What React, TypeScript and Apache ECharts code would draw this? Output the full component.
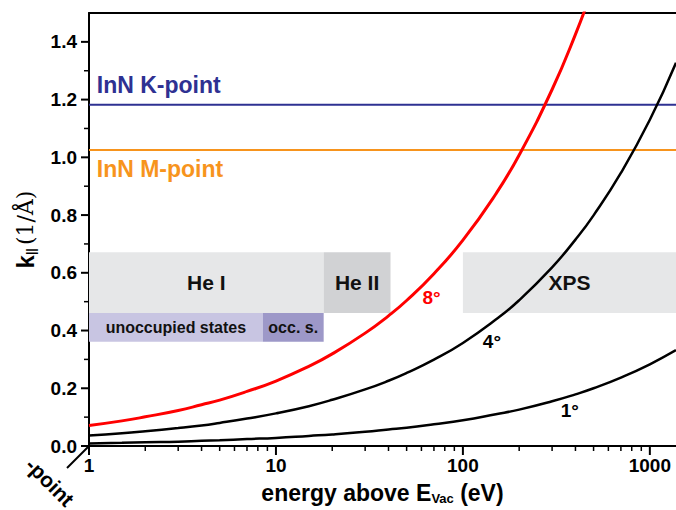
import React, { useEffect, useRef } from "react";
import * as echarts from "echarts";

// energies (eV) at which curves were read
const energies = [1, 1.5, 2, 3, 4, 5, 7, 10, 15, 20, 30, 40, 50, 70, 100, 150, 200, 300, 400, 500, 700, 1000, 1380];
const k8 = [0.071, 0.087, 0.101, 0.123, 0.143, 0.159, 0.189, 0.225, 0.276, 0.319, 0.391, 0.451, 0.504, 0.597, 0.713, 0.873, 1.008, 1.235, 1.426, 1.594];
const k4 = [0.036, 0.044, 0.051, 0.062, 0.071, 0.080, 0.095, 0.113, 0.138, 0.160, 0.196, 0.226, 0.253, 0.299, 0.357, 0.438, 0.505, 0.619, 0.715, 0.799, 0.946, 1.130, 1.328];
const k1 = [0.009, 0.011, 0.013, 0.015, 0.018, 0.020, 0.024, 0.028, 0.035, 0.040, 0.049, 0.057, 0.063, 0.075, 0.089, 0.110, 0.126, 0.155, 0.179, 0.200, 0.237, 0.283, 0.332];

const kPoint = 1.182;
const mPoint = 1.025;

const xMin = 1;
const xMax = 1380;
const xLabels = [1, 10, 100, 1000];
const yLabels = [0, 0.2, 0.4, 0.6, 0.8, 1.0, 1.2, 1.4];
const xMinor = [2, 3, 4, 5, 6, 7, 8, 9, 20, 30, 40, 50, 60, 70, 80, 90, 200, 300, 400, 500, 600, 700, 800, 900];
const yMinor = [0.1, 0.3, 0.5, 0.7, 0.9, 1.1, 1.3];

// regions: [label, x0, x1, y0, y1]
const regions: [string, number, number, number, number][] = [
  ["He I", 1, 18, 0.461, 0.671],
  ["He II", 18, 41, 0.461, 0.671],
  ["XPS", 100, 1380, 0.461, 0.671],
  ["unoccupied states", 1, 8.5, 0.361, 0.461],
  ["occ. s.", 8.5, 18, 0.361, 0.461],
];
const regionColors = ["#e6e7e8", "#d1d2d4", "#e6e7e8", "#c8c5e2", "#9d98c8"];
const regionFont = [21, 21, 21, 16, 16];

// annotations: [text, x, y]
const angleLabels: [string, number, number][] = [
  ["8°", 68, 0.513],
  ["4°", 143, 0.361],
  ["1°", 373, 0.124],
];
const pointLabels: [string, number, number][] = [
  ["InN K-point", 1.1, 1.252],
  ["InN M-point", 1.1, 0.96],
];

const FONT = '"Liberation Sans", Arial, sans-serif';

export default function App() {
  const ref = useRef<HTMLDivElement>(null);
  useEffect(() => {
    document.body.style.margin = "0";
    const chart = echarts.init(ref.current!, null, { renderer: "svg" });
    const pair = (ys: number[]) => ys.map((y, i) => [energies[i], y]);
    const option: any = {
      animation: false,
      textStyle: { fontFamily: FONT },
      grid: { left: 89, right: 0, top: 13, bottom: 61 },
      xAxis: [
        {
          type: "log",
          logBase: 10,
          min: xMin,
          max: xMax,
          name: "energy above E{sub|Vac} (eV)",
          nameLocation: "middle",
          nameGap: 34,
          nameTextStyle: {
            fontSize: 23,
            fontWeight: "bold",
            color: "#000",
            fontFamily: FONT,
            rich: {
              sub: { fontSize: 13, fontWeight: "bold", fontFamily: FONT, color: "#000", verticalAlign: "bottom", padding: [12, 0, 0, 0] },
            },
          },
          axisLine: { show: true, lineStyle: { color: "#000", width: 2 } },
          axisTick: { show: false },
          axisLabel: {
            customValues: xLabels,
            fontSize: 19,
            fontWeight: "bold",
            color: "#000",
            fontFamily: FONT,
            margin: 10,
            formatter: (v: number) => String(Math.round(v)),
          },
          splitLine: { show: false },
          minorTick: { show: false },
        },
        {
          type: "log",
          logBase: 10,
          min: xMin,
          max: xMax,
          position: "top",
          axisLine: { show: true, lineStyle: { color: "#000", width: 2 } },
          axisTick: { show: false },
          axisLabel: { show: false },
          splitLine: { show: false },
        },
      ],
      yAxis: {
        type: "value",
        min: 0,
        max: 1.5,
        interval: 0.2,
        name: "{k|k}{sub|||} {u|(1/Å)}",
        nameLocation: "middle",
        nameGap: 52,
        nameTextStyle: {
          rich: {
            k: { fontSize: 24, fontWeight: "bold", fontFamily: FONT, color: "#000" },
            sub: { fontSize: 12, fontWeight: "bold", fontFamily: FONT, color: "#000", verticalAlign: "bottom", padding: [10, 0, 0, 0] },
            u: { fontSize: 22, fontFamily: '"DejaVu Serif", "Liberation Serif", serif', color: "#000" },
          },
        },
        axisLine: { show: true, lineStyle: { color: "#000", width: 2 } },
        axisTick: { show: false },
        axisLabel: {
          customValues: yLabels,
          fontSize: 19,
          fontWeight: "bold",
          color: "#000",
          fontFamily: FONT,
          margin: 12,
          formatter: (v: number) => v.toFixed(1),
        },
        splitLine: { show: false },
      },
      series: [
        {
          type: "line",
          z: 1,
          data: [],
          silent: true,
          markArea: {
            silent: true,
            data: regions.map((r, i) => [
              {
                xAxis: r[1],
                yAxis: r[3],
                itemStyle: { color: regionColors[i], opacity: 1 },
                label: {
                  show: true,
                  position: "inside",
                  formatter: r[0],
                  fontSize: regionFont[i],
                  fontWeight: "bold",
                  fontFamily: FONT,
                  color: "#111",
                },
              },
              { xAxis: r[2], yAxis: r[4] },
            ]),
          },
        },
        {
          type: "line",
          z: 3,
          data: [[xMin, kPoint], [xMax, kPoint]],
          showSymbol: false,
          lineStyle: { color: "#2e3192", width: 2 },
        },
        {
          type: "line",
          z: 3,
          data: [[xMin, mPoint], [xMax, mPoint]],
          showSymbol: false,
          lineStyle: { color: "#f7941d", width: 2 },
        },
        {
          type: "line",
          z: 4,
          smooth: true,
          data: pair(k1),
          showSymbol: false,
          lineStyle: { color: "#000", width: 2.5 },
        },
        {
          type: "line",
          z: 4,
          smooth: true,
          data: pair(k4),
          showSymbol: false,
          lineStyle: { color: "#000", width: 2.5 },
        },
        {
          type: "line",
          z: 4,
          smooth: true,
          data: pair(k8),
          showSymbol: false,
          lineStyle: { color: "#ff0000", width: 3 },
        },
        {
          type: "scatter",
          z: 5,
          symbolSize: 0,
          itemStyle: { opacity: 1 },
          data: angleLabels.map((a, i) => ({
            value: [a[1], a[2]],
            name: a[0],
            label: { color: i === 0 ? "#ff0000" : "#000" },
          })),
          label: {
            show: true,
            position: "inside",
            formatter: (p: any) => p.name,
            fontSize: 19,
            fontWeight: "bold",
            fontFamily: FONT,
            textBorderWidth: 0,
            opacity: 1,
          },
        },
        {
          type: "scatter",
          z: 5,
          symbolSize: 0,
          itemStyle: { opacity: 1 },
          data: pointLabels.map((a, i) => ({
            value: [a[1], a[2]],
            name: a[0],
            label: { color: i === 0 ? "#2e3192" : "#f7941d" },
          })),
          label: {
            show: true,
            position: "right",
            distance: 0,
            formatter: (p: any) => p.name,
            fontSize: 23,
            fontWeight: "bold",
            fontFamily: FONT,
            textBorderWidth: 0,
            opacity: 1,
          },
        },
      ],
    };
    chart.setOption(option);

    // ticks placed through the axes' own scales
    const px = (v: number) => chart.convertToPixel({ xAxisIndex: 0 }, v) as number;
    const py = (v: number) => chart.convertToPixel({ yAxisIndex: 0 }, v) as number;
    const x0 = px(xMin);
    const y0 = py(0);
    const tick = (x1: number, y1: number, x2: number, y2: number, w: number) => ({
      type: "line",
      silent: true,
      z: 10,
      shape: { x1, y1, x2, y2 },
      style: { stroke: "#000", lineWidth: w },
    });
    const ticks: any[] = [
      ...xLabels.map((v) => tick(px(v), y0, px(v), y0 + 9, 2)),
      ...xMinor.map((v) => tick(px(v), y0, px(v), y0 + 5, 1.5)),
      ...yLabels.map((v) => tick(x0, py(v), x0 - 8, py(v), 2)),
      ...yMinor.map((v) => tick(x0, py(v), x0 - 5, py(v), 1.5)),
    ];
    chart.setOption({
      graphic: [
        {
          type: "text",
          x: 50,
          y: 482,
          rotation: -Math.PI / 4,
          style: {
            text: "-point",
            font: `bold 21px ${FONT}`,
            fill: "#000",
            align: "center",
            verticalAlign: "middle",
          },
        },
        tick(x0, y0, x0 - 22, y0 + 22, 2),
        ...ticks,
      ],
    });
    return () => chart.dispose();
  }, []);
  return <div ref={ref} style={{ width: 676, height: 510 }} />;
}
